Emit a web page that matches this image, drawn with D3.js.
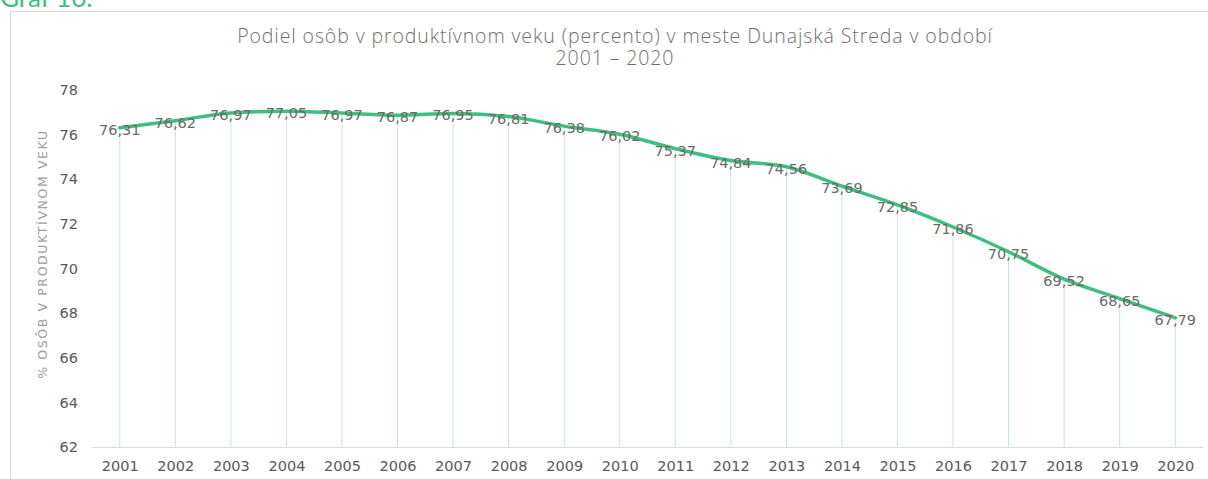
<!DOCTYPE html>
<html>
<head>
<meta charset="utf-8">
<script src="https://cdn.jsdelivr.net/npm/d3@7"></script>
<style>
  body { margin: 0; background: #fff; }
  svg { display: block; }
</style>
</head>
<body>
<div id="chart"></div>
<script>
// Plot constants
const WIDTH = 1208;
const HEIGHT = 479;

const years = ["2001", "2002", "2003", "2004", "2005", "2006", "2007", "2008", "2009", "2010",
  "2011", "2012", "2013", "2014", "2015", "2016", "2017", "2018", "2019", "2020"];
const shares = [76.31, 76.62, 76.97, 77.05, 76.97, 76.87, 76.95, 76.81, 76.38, 76.02,
  75.37, 74.84, 74.56, 73.69, 72.85, 71.86, 70.75, 69.52, 68.65, 67.79];
const yTicks = [62, 64, 66, 68, 70, 72, 74, 76, 78];

const titleLines = [
  "Podiel osôb v produktívnom veku (percento) v meste Dunajská Streda v období",
  "2001 – 2020",
];
const yLabel = "% OSÔB V PRODUKTÍVNOM VEKU";

const FONT = "'DejaVu Sans', sans-serif";

const svg = d3
  .select("#chart")
  .append("svg")
  .attr("width", WIDTH)
  .attr("height", HEIGHT);

// Heading peeking in at the top
svg.append("text")
  .attr("x", 0)
  .attr("y", 7)
  .attr("font-family", "Lato, sans-serif")
  .attr("font-size", "26px")
  .attr("fill", "#3dbf80")
  .text("Graf 16.");

// Chart frame
svg.append("rect")
  .attr("x", 10.5)
  .attr("y", 11.5)
  .attr("width", WIDTH)
  .attr("height", HEIGHT)
  .attr("fill", "#fff")
  .attr("stroke", "#d9d9d9");

// Scales
const x = d3.scalePoint().domain(years).range([92, 1203]).padding(0.5);
const y = d3.scaleLinear().domain([62, 78]).range([447, 90]);

// Title
svg.append("g")
  .selectAll("text")
  .data(titleLines)
  .join("text")
  .attr("x", 615)
  .attr("y", (d, i) => 43 + i * 22)
  .attr("text-anchor", "middle")
  .attr("font-family", "'Open Sans', sans-serif")
  .attr("font-weight", 300)
  .attr("font-size", "19.5px")
  .attr("letter-spacing", "0.9px")
  .attr("fill", "#6f6f6f")
  .text(d => d);

// Y axis label
svg.append("text")
  .attr("transform", "translate(47,254) rotate(-90)")
  .attr("text-anchor", "middle")
  .attr("font-family", FONT)
  .attr("font-size", "12.5px")
  .attr("letter-spacing", "1.6px")
  .attr("fill", "#a0a0a0")
  .text(yLabel);

// Y axis (labels only)
const yAxis = svg.append("g")
  .attr("transform", "translate(78,0)")
  .call(d3.axisLeft(y).tickValues(yTicks).tickSize(0).tickPadding(0));
yAxis.select(".domain").remove();
yAxis.selectAll("text")
  .attr("font-family", FONT)
  .attr("font-size", "14.5px")
  .attr("fill", "#595959");

// Drop lines
svg.append("g")
  .selectAll("line")
  .data(shares)
  .join("line")
  .attr("x1", (d, i) => x(years[i]))
  .attr("x2", (d, i) => x(years[i]))
  .attr("y1", d => y(d))
  .attr("y2", y(62))
  .attr("stroke", "#c3e8dc")
  .attr("stroke-width", 1);

// X axis
const xAxis = svg.append("g")
  .attr("transform", `translate(0,${y(62)})`)
  .call(d3.axisBottom(x).tickSize(0).tickPadding(14));
xAxis.select(".domain")
  .attr("stroke", "#d9d9d9")
  .attr("d", "M92,0.5H1203");
xAxis.selectAll("text")
  .attr("font-family", FONT)
  .attr("font-size", "14.5px")
  .attr("fill", "#595959");

// Line
const line = d3.line()
  .x((d, i) => x(years[i]))
  .y(d => y(d))
  .curve(d3.curveMonotoneX);

svg.append("path")
  .datum(shares)
  .attr("d", line)
  .attr("fill", "none")
  .attr("stroke", "#3dbf80")
  .attr("stroke-width", 3.5)
  .attr("stroke-linejoin", "round")
  .attr("stroke-linecap", "round");

// Data labels
svg.append("g")
  .selectAll("text")
  .data(shares)
  .join("text")
  .attr("x", (d, i) => x(years[i]))
  .attr("y", d => y(d) + 7)
  .attr("text-anchor", "middle")
  .attr("font-family", FONT)
  .attr("font-size", "14.5px")
  .attr("fill", "#6a6a6a")
  .text(d => d.toFixed(2).replace(".", ","));
</script>
</body>
</html>
